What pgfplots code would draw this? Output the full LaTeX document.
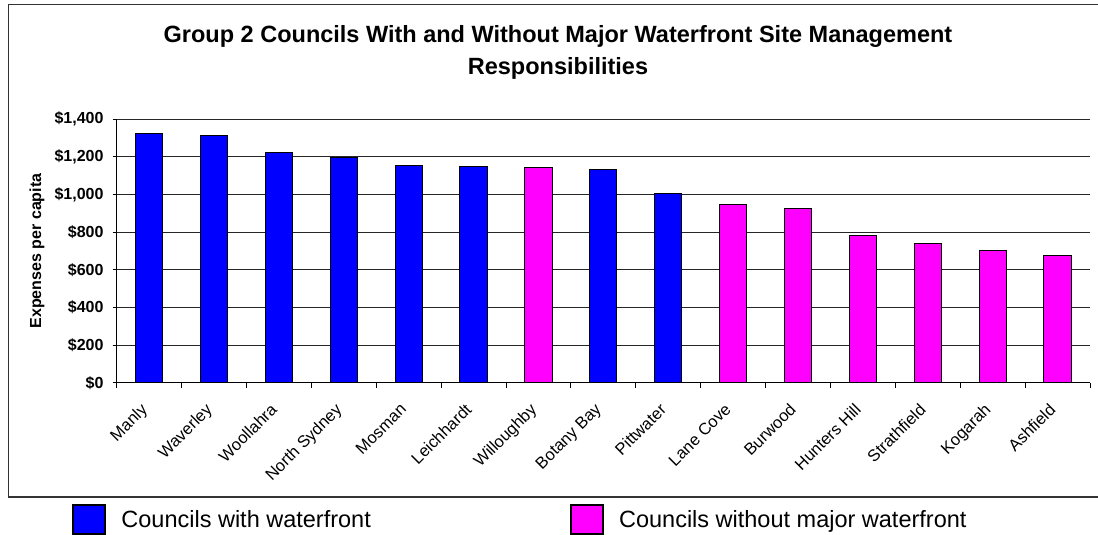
\documentclass[border=0pt]{standalone}
\usepackage{pgfplots}
\pgfplotsset{compat=1.18}
\usepackage{fontspec}
\setmainfont{Liberation Sans}
\definecolor{xlblue}{RGB}{0,0,255}
\definecolor{xlmag}{RGB}{255,0,255}
\begin{document}
\begin{tikzpicture}[x=1bp,y=1bp]
\useasboundingbox (0,0) rectangle (1098,535);
\draw[black!80,line width=1.6bp] (8.3,38) rectangle (1102,530.3);
\node[anchor=base,font=\fontsize{23.5bp}{28bp}\selectfont\bfseries] at (558,535-43) {Group 2 Councils With and Without Major Waterfront Site Management};
\node[anchor=base,font=\fontsize{23.5bp}{28bp}\selectfont\bfseries] at (558,535-75) {Responsibilities};
\begin{axis}[
  at={(116.7bp,152.3bp)}, anchor=south west,
  scale only axis, width=973.3bp, height=263.4bp,
  xmin=-0.5, xmax=14.5, ymin=0, ymax=1400,
  axis x line=bottom, axis y line=left,
  axis line style={-,black,line width=1bp},
  ybar, bar width=0.42, bar shift=0pt,
  ytick={0,200,400,600,800,1000,1200,1400},
  yticklabels={\$0,\$200,\$400,\$600,\$800,{\$1,000},{\$1,200},{\$1,400}},
  xtick={0,...,14},
  xticklabels={Manly,Waverley,Woollahra,North Sydney,Mosman,Leichhardt,Willoughby,Botany Bay,Pittwater,Lane Cove,Burwood,Hunters Hill,Strathfield,Kogarah,Ashfield},
  minor xtick={-0.5,0.5,...,14.5},
  major x tick style={draw=none},
  tick align=outside,
  major tick length=4bp, minor tick length=5bp,
  tick style={black,line width=1bp},
  ymajorgrids, grid style={black!85,line width=1.1bp},
  yticklabel style={font=\fontsize{16bp}{19bp}\selectfont\bfseries, inner sep=0pt, xshift=-9bp},
  xticklabel style={font=\fontsize{16.5bp}{20bp}\selectfont, xshift=-9.5bp, yshift=-15.5bp, rotate=45, anchor=north east, inner sep=0pt},
  ylabel={Expenses per capita},
  ylabel style={font=\fontsize{16bp}{19bp}\selectfont\bfseries, at={(rel axis cs:-0.0819,0.5)}, anchor=center, rotate=0},
  legend columns=2,
  legend style={draw=none, fill=none, at={(rel axis cs:-0.0459,-0.5194)}, anchor=west, inner sep=0pt,
    nodes={inner sep=0pt, font=\fontsize{23.5bp}{28bp}\selectfont},
    /tikz/every odd column/.append style={column sep=15bp},
    /tikz/every even column/.append style={column sep=199bp}},
  clip=false,
]
\addplot[fill=xlblue, draw=black, line width=1bp,
  legend image code/.code={\draw[fill=xlblue,draw=black,line width=2.2bp] (0bp,-14.5bp) rectangle (32bp,14.5bp);}]
  coordinates {(0,1325) (1,1316) (2,1224) (3,1198) (4,1157) (5,1148) (7,1134) (8,1003)};
\addlegendentry{Councils with waterfront}
\addplot[fill=xlmag, draw=black, line width=1bp,
  legend image code/.code={\draw[fill=xlmag,draw=black,line width=2.2bp] (0bp,-14.5bp) rectangle (32bp,14.5bp);}]
  coordinates {(6,1143) (9,948) (10,928) (11,780) (12,741) (13,704) (14,677)};
\addlegendentry{Councils without major waterfront}
\end{axis}
\end{tikzpicture}
\end{document}
